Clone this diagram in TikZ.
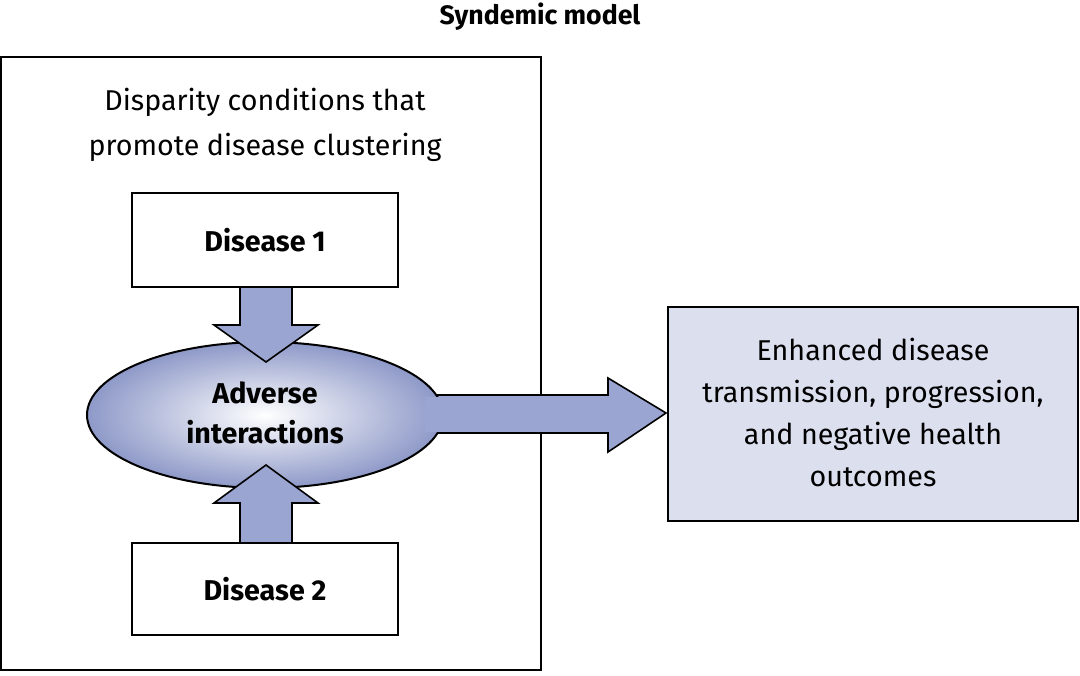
\documentclass[tikz,border=0pt]{standalone}
\usepackage{fontspec}
\setmainfont{Fira Sans}
\usetikzlibrary{shapes.geometric}
\definecolor{arr}{HTML}{9AA5D1}
\definecolor{ell}{HTML}{8E99C8}
\definecolor{rbox}{HTML}{DCDFEE}
\begin{document}
\begin{tikzpicture}[x=0.75pt,y=-0.75pt,
  box/.style={draw,line width=1.5pt,inner sep=0pt},
  txt/.style={font=\fontsize{21.5}{32}\selectfont,align=center},
  arrow/.style={fill=arr,draw=black,line width=1.2pt}]
\useasboundingbox (0,0) rectangle (1080,675);
\node[font=\fontsize{20}{24}\selectfont\bfseries] (title) at (540,17) {Syndemic model};
\node[box,minimum width=540pt*0.75,minimum height=613pt*0.75] (outer) at (270.5,363.5) {};
\node[txt,font=\fontsize{21.5}{34}\selectfont] (disp) at (265,125) {Disparity conditions that\\promote disease clustering};
\node[box,minimum width=266*0.75pt,minimum height=94*0.75pt,txt,font=\fontsize{21.5}{24}\selectfont\bfseries] (d1) at (265,240) {Disease 1};
\node[box,minimum width=266*0.75pt,minimum height=92*0.75pt,txt,font=\fontsize{21.5}{24}\selectfont\bfseries] (d2) at (265,589) {Disease 2};
% right arrow
\draw[arrow] (420,395) -- (608,395) -- (608,378) -- (666,413) -- (608,452) -- (608,433) -- (420,433) -- cycle;
\node[draw,line width=1.5pt,ellipse,minimum width=356*0.75pt,minimum height=146*0.75pt,inner color=white,outer color=ell] (ell) at (265,415) {};
\fill[arr] (425,396.5) rectangle (445,431.5);
\node[txt,font=\fontsize{21.5}{30}\selectfont\bfseries] (adv) at (265,413) {Adverse\\interactions};
% down arrow
\draw[arrow] (240,287) -- (292,287) -- (292,325) -- (318,325) -- (266,362) -- (214,325) -- (240,325) -- cycle;
% up arrow
\draw[arrow] (240,543) -- (292,543) -- (292,503) -- (318,503) -- (266,465) -- (214,503) -- (240,503) -- cycle;
\node[box,fill=rbox,minimum width=410*0.75pt,minimum height=214*0.75pt] (res) at (873,414) {};
\node[txt,font=\fontsize{21.5}{31.5}\selectfont] (restxt) at (873,412) {Enhanced disease\\transmission, progression,\\and negative health\\outcomes};
\end{tikzpicture}
\end{document}
